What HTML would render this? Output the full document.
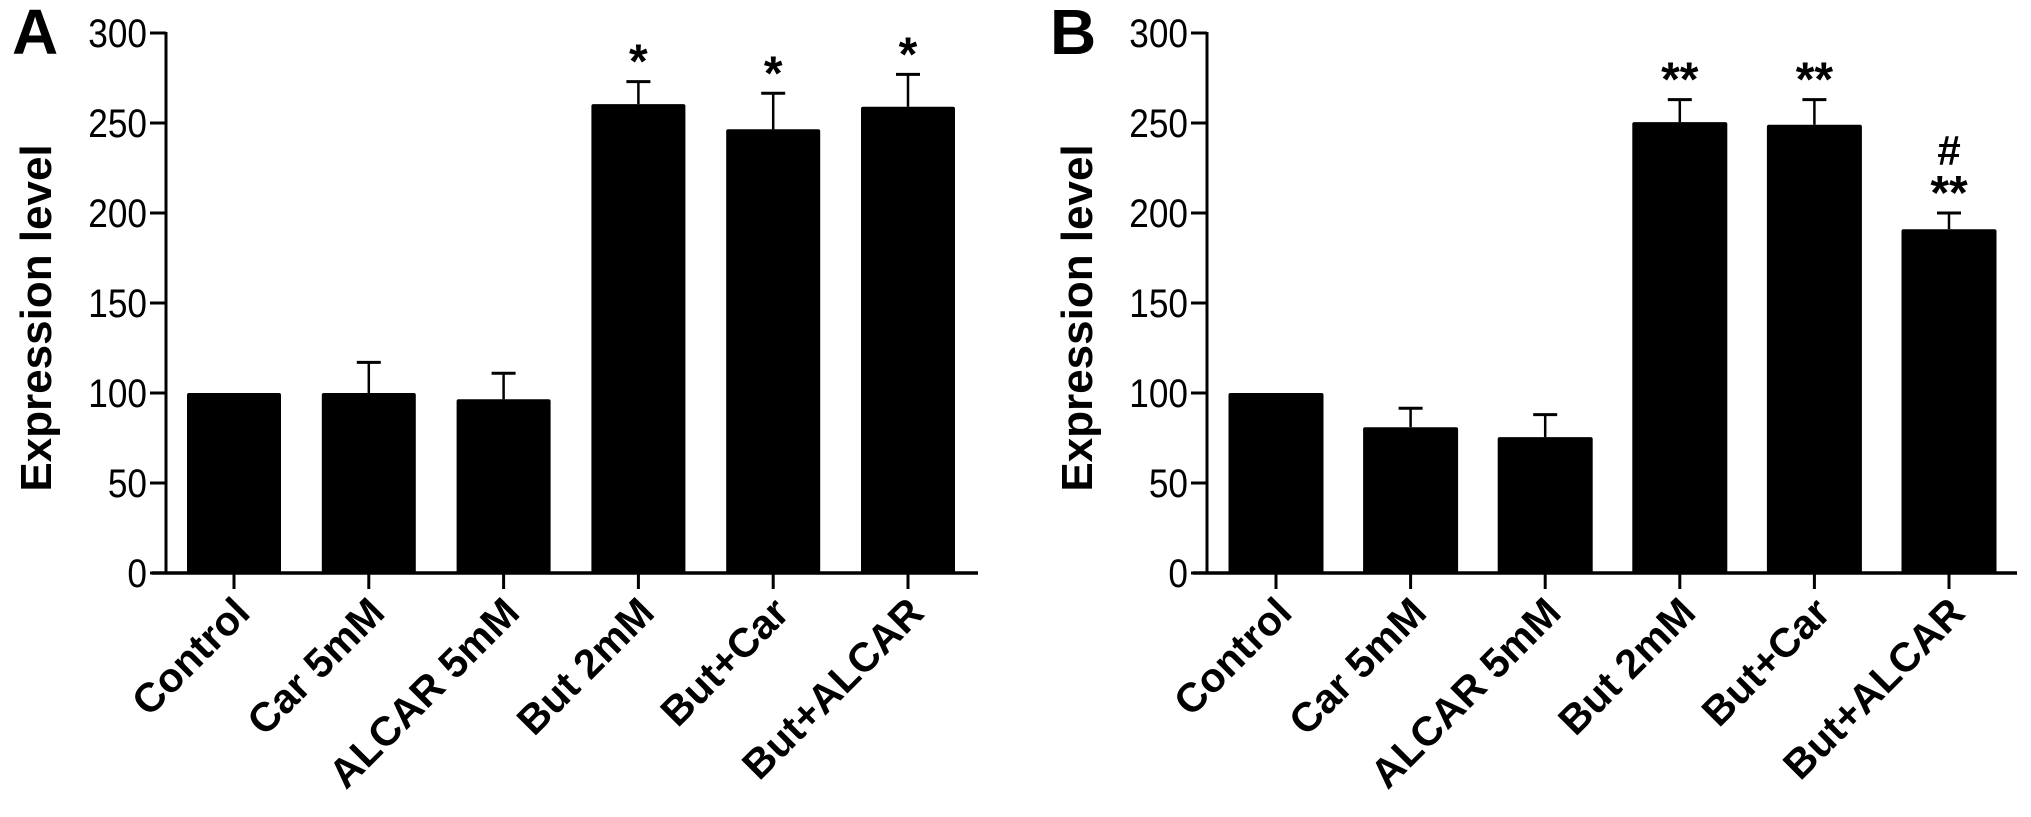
<!DOCTYPE html>
<html><head><meta charset="utf-8"><style>
html,body{margin:0;padding:0;background:#fff;}
svg{display:block;}
text{font-family:"Liberation Sans",Arial,sans-serif;fill:#000;}
</style></head><body>
<svg id="chart" width="2031" height="817" viewBox="0 0 2031 817" xmlns="http://www.w3.org/2000/svg"></svg>
<script>
const categories = ["Control","Car 5mM","ALCAR 5mM","But 2mM","But+Car","But+ALCAR"];
const valuesA = [100, 100, 96.5, 260.5, 246.5, 259];
const errorsA = [0, 17, 14.5, 12.5, 20, 18];
const marksA = ["", "", "", "*", "*", "*"];
const valuesB = [100, 81, 75.5, 250.5, 249, 191];
const errorsB = [0, 10.5, 12.5, 12.5, 14, 9];
const marksB = ["", "", "", "**", "**", "**"];
const marksB2 = ["", "", "", "", "", "#"];
const yTicks = [0, 50, 100, 150, 200, 250, 300];

const NS = "http://www.w3.org/2000/svg";
const svg = document.getElementById("chart");
function mk(tag, attrs, parent){
  const e = document.createElementNS(NS, tag);
  for (const k in attrs) e.setAttribute(k, attrs[k]);
  (parent||svg).appendChild(e);
  return e;
}
const y0 = 573, yPer = 1.8;
function yScale(v){ return y0 - v*yPer; }

function panel(letter, axisX, firstCenter, step, barW, baseEnd, values, errors, marks, marks2, letterX){
  const g = mk("g", {});
  
  
  function xScale(i){ return firstCenter + i*step; }
  const lt = mk("text", {x:letterX, y:54, "font-size":64, "font-weight":"bold"}, g);
  lt.textContent = letter;
  
  
  const yt = mk("text", {x:0, y:0, "font-size":44, "font-weight":"bold", "text-anchor":"middle",
    transform:"translate(" + (axisX-115) + ",318) rotate(-90)"}, g);
  yt.textContent = "Expression level";
  
  
  values.forEach((v,i)=>{
    const cx = xScale(i);
    const r = mk("rect", {x:cx-barW/2, y:yScale(v), width:barW, height:y0-yScale(v), rx:2, fill:"#000"}, g);
    
    
    if (errors[i] > 0){
      const top = yScale(v+errors[i]);
      const e1 = mk("line", {x1:cx, x2:cx, y1:yScale(v), y2:top, stroke:"#000", "stroke-width":2.5}, g);
      
      
      const e2 = mk("line", {x1:cx-12, x2:cx+12, y1:top, y2:top, stroke:"#000", "stroke-width":3}, g);
      
      
    }
    const topE = yScale(v+errors[i]);
    if (marks[i]){
      const s = mk("text", {x:cx, y:topE-4, "font-size":48, "font-weight":"bold", "text-anchor":"middle"}, g);
      s.textContent = marks[i];
      
      
    }
    if (marks2[i]){
      const s2 = mk("text", {x:cx, y:topE-48, "font-size":42, "font-weight":"bold", "text-anchor":"middle"}, g);
      s2.textContent = marks2[i];
      
      
    }
    const t = mk("line", {x1:cx, x2:cx, y1:y0, y2:y0+16, stroke:"#000", "stroke-width":3}, g);
    
    
    const lab = mk("text", {x:0, y:0, "font-size":41, "font-weight":"bold", "text-anchor":"end",
      transform:"translate(" + (cx+18) + "," + (y0+42) + ") rotate(-45)"}, g);
    lab.textContent = categories[i];
    
    
  });
  const ya = mk("line", {x1:axisX, x2:axisX, y1:yScale(300)-1, y2:y0+1.5, stroke:"#000", "stroke-width":3}, g);
  
  
  const xa = mk("line", {x1:axisX-14, x2:baseEnd, y1:y0, y2:y0, stroke:"#000", "stroke-width":3.5}, g);
  
  
  yTicks.forEach(tv=>{
    const ty = yScale(tv);
    const tk = mk("line", {x1:axisX-16, x2:axisX, y1:ty, y2:ty, stroke:"#000", "stroke-width":3}, g);
    
    
    const tl = mk("text", {x:0, y:0, "font-size":40, "text-anchor":"end",
      transform:"translate(" + (axisX-19) + "," + (ty+14) + ") scale(0.88,1)"}, g);
    tl.textContent = tv;
    
    
  });
}
panel("A", 166, 234, 134.8, 94, 978, valuesA, errorsA, marksA, ["","","","","",""], 12);
panel("B", 1207, 1276, 134.6, 95, 2017, valuesB, errorsB, marksB, marksB2, 1050);
</script>
</body></html>
